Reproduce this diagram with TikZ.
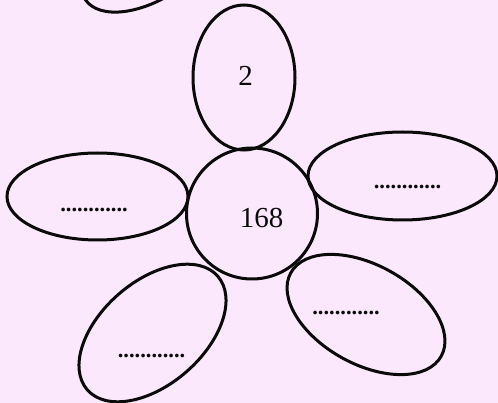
\documentclass[tikz,border=0pt]{standalone}
\usepackage{fontspec}
\setmainfont{Liberation Serif}
\usepackage{tikz}
\usetikzlibrary{shapes.geometric,calc}
\definecolor{paper}{HTML}{FCE8FC}
\definecolor{inkdark}{HTML}{0A0A0A}
\tikzset{
  petal/.style={draw=inkdark, ellipse, line width=3pt, inner sep=0pt},
  core/.style={draw=inkdark, circle, line width=3pt, inner sep=0pt, minimum size=131pt},
  num/.style={font=\fontsize{29}{31}\selectfont, inner sep=0pt, text=inkdark},
  blank/.style={font=\fontsize{22.5}{24}\selectfont\bfseries, inner sep=0pt, text=inkdark},
}

\begin{document}
\begin{tikzpicture}[x=1pt, y=-1pt]
  % PAPER
  \fill[paper] (0,0) rectangle (498,403);
  \useasboundingbox (0,0) rectangle (498,403);
  \clip (0,0) rectangle (498,403);

  % ==========================================
  % CENTRE OF THE FLOWER
  % ==========================================
  \node[core] (core) at (252,213.5) {};
  \node[num] (n168) at ($(core)+(9.5,4.5)$) {168};

  % ==========================================
  % PETALS (placed around the centre)
  % ==========================================
  \node[petal, minimum width=102pt, minimum height=145pt] (ptop) at ($(core)+(-8,-136)$) {};
  \node[petal, minimum width=181pt, minimum height=87pt] (pleft) at ($(core)+(-154.5,-17)$) {};
  \node[petal, minimum width=189pt, minimum height=88pt] (pright) at ($(core)+(150.5,-37.5)$) {};
  \node[petal, minimum width=173pt, minimum height=103pt, rotate=41] (pbl) at ($(core)+(-99.5,119.5)$) {};
  \node[petal, minimum width=172pt, minimum height=99pt, rotate=-29] (pbr) at ($(core)+(114,101)$) {};

  % petal of the next flower, cut by the top edge
  \node[petal, minimum width=170pt, minimum height=90pt, rotate=35] (pcut) at ($(core)+(-97,-262.5)$) {};

  % ==========================================
  % TEXTS IN THE PETALS
  % ==========================================
  \node[num] (n2) at ($(ptop)+(1.5,-1.5)$) {2};
  \node[blank] (bleft) at ($(pleft)+(-3.5,13.5)$) {............};
  \node[blank] (bright) at ($(pright)+(5,11)$) {............};
  \node[blank] (bbl) at ($(pbl)+(-1,23)$) {............};
  \node[blank] (bbr) at ($(pbr)+(-20,-1.5)$) {............};
\end{tikzpicture}
\end{document}
